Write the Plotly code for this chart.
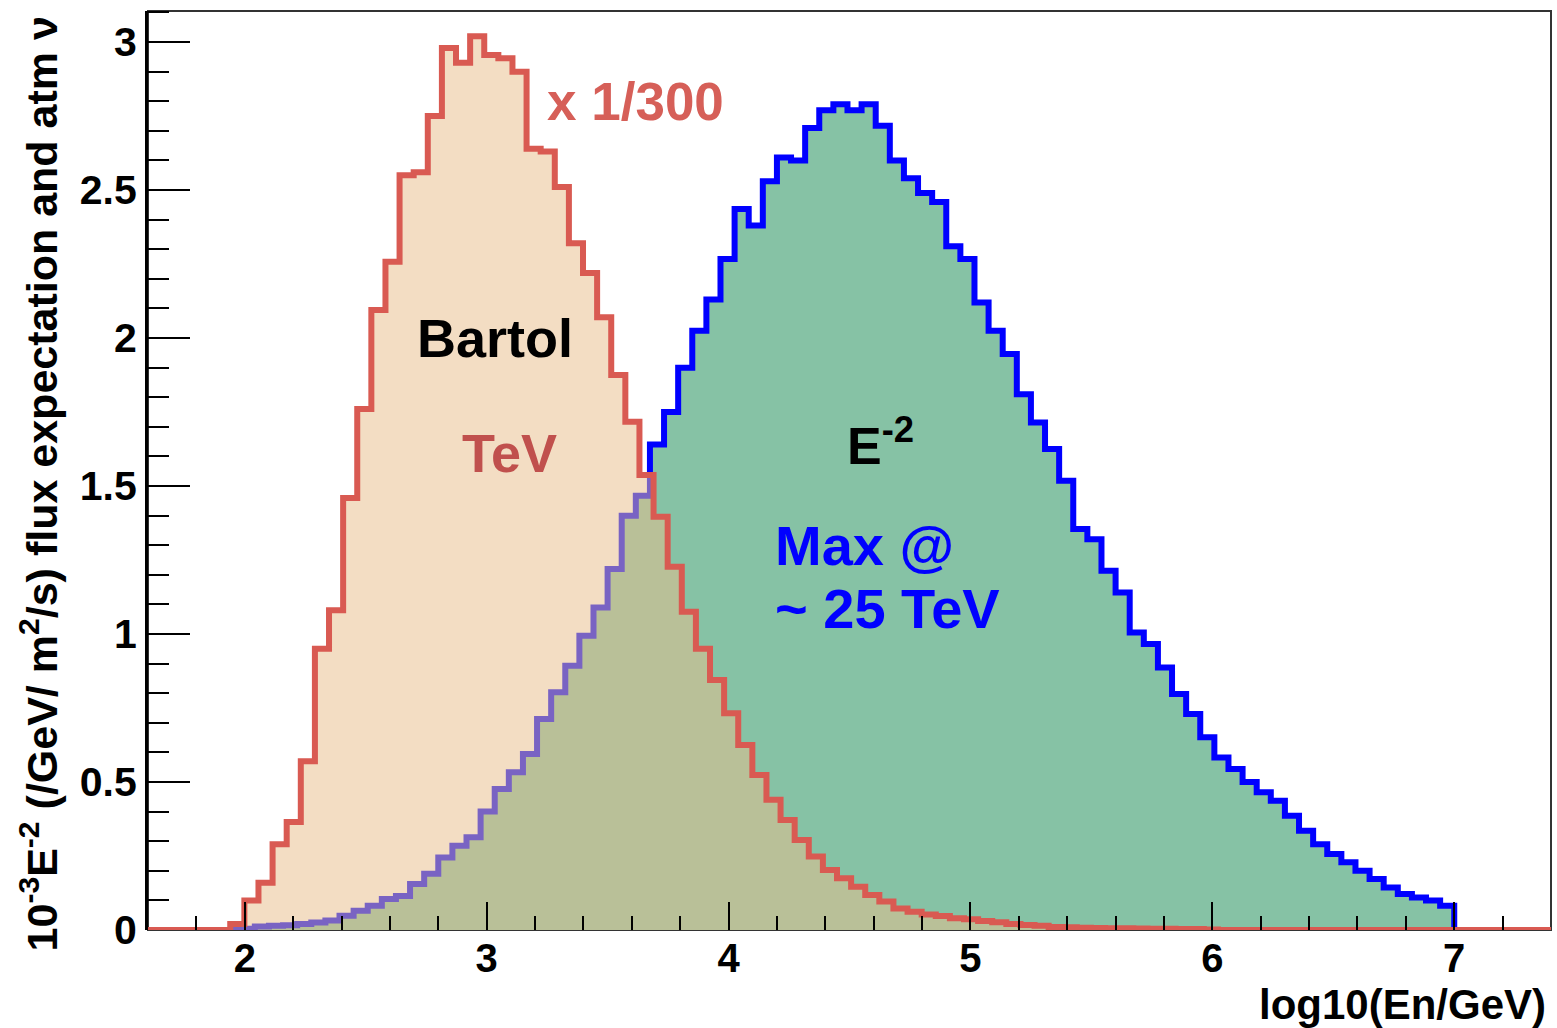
import numpy as np
import plotly.graph_objects as go

# ---------------- data ----------------
bin_width = 7.0 / 120.0

# Bartol atmospheric nu (x 1/300), bins start at log10(E)=1.94
red_start = 1.94
red_values = [0.02, 0.10, 0.16, 0.29, 0.365, 0.57, 0.95, 1.08, 1.46, 1.76,
              2.095, 2.258, 2.55, 2.56, 2.75, 2.98, 2.93, 3.02, 2.956, 2.945,
              2.90, 2.64, 2.63, 2.51, 2.32, 2.22, 2.07, 1.875, 1.717, 1.537,
              1.396, 1.227, 1.075, 0.95, 0.845, 0.732, 0.625, 0.524, 0.44, 0.372,
              0.304, 0.248, 0.203, 0.175, 0.146, 0.118, 0.096, 0.073, 0.062, 0.052,
              0.047, 0.04, 0.036, 0.03, 0.026, 0.02, 0.017, 0.014, 0.010, 0.009,
              0.008, 0.007, 0.006, 0.006, 0.005, 0.004, 0.004, 0.003, 0.003, 0.002]

# E^-2 flux expectation, bins start at bin index 34 (log10(E)=1.983)
blue_first_bin = 34
blue_values = [0.004, 0.012, 0.014, 0.016, 0.02, 0.025, 0.032, 0.048, 0.065, 0.082,
               0.105, 0.115, 0.155, 0.19, 0.245, 0.285, 0.313, 0.40, 0.476, 0.533,
               0.595, 0.713, 0.803, 0.893, 0.994, 1.09, 1.22, 1.40, 1.467,
               1.64, 1.75, 1.90, 2.025, 2.13, 2.267, 2.436, 2.38, 2.53, 2.61,
               2.60, 2.71, 2.77, 2.79, 2.77, 2.79, 2.717, 2.60, 2.54, 2.49,
               2.46, 2.31, 2.267, 2.12, 2.025, 1.946, 1.81, 1.715, 1.625, 1.518,
               1.355, 1.32, 1.214, 1.14, 1.005, 0.966, 0.887, 0.797, 0.73, 0.651,
               0.583, 0.544, 0.50, 0.465, 0.437, 0.386, 0.335, 0.29, 0.257, 0.229,
               0.20, 0.172, 0.144, 0.122, 0.11, 0.10, 0.082]

x_range = [1.6, 7.4]
y_range = [0.0, 3.105]
x_tickvals = [2, 3, 4, 5, 6, 7]
y_tickvals = [0, 0.5, 1, 1.5, 2, 2.5, 3]
y_ticktext = ["0", "0.5", "1", "1.5", "2", "2.5", "3"]

# ---------------- helpers ----------------
def step_xy(lo_edge, values, width, x_lo, x_hi):
    edges = lo_edge + width * np.arange(len(values) + 1)
    xs = [x_lo] + list(edges) + [x_hi]
    ys = [0.0] + list(values) + [0.0, 0.0]
    return xs, ys

red_x, red_y = step_xy(red_start, red_values, bin_width, x_range[0], x_range[1])
blue_lo = blue_first_bin * bin_width
blue_x, blue_y = step_xy(blue_lo, blue_values, bin_width, blue_lo - bin_width, 7.0 + bin_width)

FONT = "Liberation Sans, Arial, Helvetica, sans-serif"
RED = "#d95a52"
BLUE = "#0000ff"
GREEN = "#86c2a5"

fig = go.Figure()
fig.add_trace(go.Scatter(x=blue_x, y=blue_y, mode="lines", line_shape="hv",
                         line=dict(color=BLUE, width=6), fill="tozeroy",
                         fillcolor=GREEN, hoverinfo="skip", showlegend=False))
fig.add_trace(go.Scatter(x=red_x, y=red_y, mode="lines", line_shape="hv",
                         line=dict(color=RED, width=6), fill="tozeroy",
                         fillcolor="rgba(232,190,140,0.52)", hoverinfo="skip",
                         showlegend=False))

xtickfont = dict(family=FONT, size=40, color="black", weight="bold")
ytickfont = dict(family=FONT, size=41, color="black", weight="bold")
fig.update_xaxes(range=x_range, showgrid=False, zeroline=False, showline=False,
                 ticks="inside", ticklen=28, tickwidth=2, tickcolor="black",
                 tickvals=x_tickvals, tickfont=xtickfont, ticklabelstandoff=1,
                 minor=dict(ticks="inside", ticklen=14, tickwidth=2,
                            tickcolor="black", dtick=0.2, tick0=0),
                 layer="above traces")
fig.update_yaxes(range=y_range, showgrid=False, zeroline=False, showline=True,
                 linecolor="black", linewidth=3,
                 ticks="inside", ticklen=42, tickwidth=2, tickcolor="black",
                 tickvals=y_tickvals, ticktext=y_ticktext, tickfont=ytickfont,
                 ticklabelstandoff=0,
                 minor=dict(ticks="inside", ticklen=21, tickwidth=2,
                            tickcolor="black", dtick=0.1, tick0=0),
                 layer="above traces")

fig.add_shape(type="rect", xref="paper", yref="paper", x0=0, x1=1, y0=0, y1=1,
              line=dict(color="#333333", width=2), layer="below")

def ann(text, x, y, color, size, xanchor="center"):
    fig.add_annotation(text=text, x=x, y=y, xref="x", yref="y", showarrow=False,
                       xanchor=xanchor, yanchor="middle",
                       font=dict(family=FONT, size=size, color=color, weight="bold"))

ann("x 1/300", 3.241, 2.80, "#d65f58", 53, "left")
ann("Bartol", 3.034, 2.00, "black", 54)
ann("TeV", 3.096, 1.61, "#c0504d", 54)
ann("E<sup>-2</sup>", 4.481, 1.65, "black", 52, "left")
ann("Max @", 4.184, 1.30, "#0000ff", 56, "left")
ann("~ 25 TeV", 4.184, 1.085, "#0000ff", 56, "left")

fig.add_annotation(text="log10(En/GeV)", xref="paper", yref="paper",
                   x=0.998, y=-0.081, xanchor="right", yanchor="middle",
                   showarrow=False,
                   font=dict(family=FONT, size=42, color="black", weight="bold"))
fig.add_annotation(text="10<sup>-3</sup>E<sup>-2</sup> (/GeV/ m<sup>2</sup>/s) flux expectation and atm \u03bd",
                   xref="paper", yref="paper", x=-0.0775, y=0.996,
                   xanchor="center", yanchor="top", textangle=-90, showarrow=False,
                   font=dict(family=FONT, size=43, color="black", weight="bold"))

fig.update_layout(width=1557, height=1028, plot_bgcolor="white", paper_bgcolor="white",
                  margin=dict(l=148, r=6, t=11, b=98), showlegend=False)

fig.write_html("out.html")
